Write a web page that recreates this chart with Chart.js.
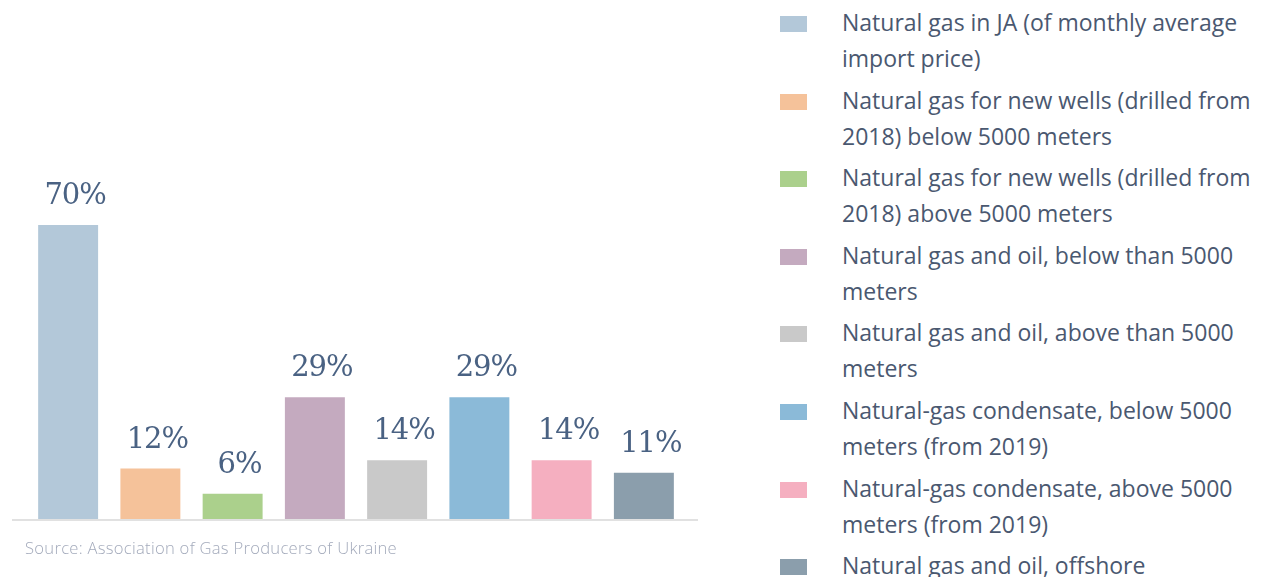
<!DOCTYPE html>
<html>
<head>
<meta charset="utf-8">
<script src="https://cdn.jsdelivr.net/npm/chart.js@4/dist/chart.umd.min.js"></script>
<style>
  html, body { margin: 0; padding: 0; background: #fff; }
  body { width: 1261px; height: 577px; position: relative; overflow: hidden; }
  #chartBox { position: absolute; left: 0; top: 0; width: 720px; height: 577px; }
  #source { position: absolute; left: 25px; top: 536px; font-family: "Open Sans", sans-serif; font-size: 16.6px; letter-spacing: 0.28px; color: #a3aabb; font-weight: 300; }
  #legend { position: absolute; left: 780px; top: 4px; font-family: "Open Sans", sans-serif; font-size: 23px; color: #4a5870; }
  .item { position: relative; height: 77.6px; }
  .sw { position: absolute; left: 0; top: 12px; width: 27px; height: 16px; }
  .txt { position: absolute; left: 62px; top: 0; line-height: 36px; white-space: nowrap; }
</style>
</head>
<body>
<div id="chartBox"><canvas id="chart"></canvas></div>
<div id="source">Source: Association of Gas Producers of Ukraine</div>
<div id="legend"></div>
<script>
// categories (legend text, line breaks as in the original)
const categories = [
    'Natural gas in JA (of monthly average|import price)',
    'Natural gas for new wells (drilled from|2018) below 5000 meters',
    'Natural gas for new wells (drilled from|2018) above 5000 meters',
    'Natural gas and oil, below than 5000|meters',
    'Natural gas and oil, above than 5000|meters',
    'Natural-gas condensate, below 5000|meters (from 2019)',
    'Natural-gas condensate, above 5000|meters (from 2019)',
    'Natural gas and oil, offshore'
]
const values = [70, 12, 6, 29, 14, 29, 14, 11]
const colors = ['#b3c8d9', '#f5c29a', '#abd08c', '#c4aabf', '#c9c9c9', '#8bbad8', '#f5afc0', '#8b9eac']

// legend
const legendEl = document.getElementById('legend')
categories.forEach((c, i) => {
    const item = document.createElement('div')
    item.className = 'item'
    item.innerHTML = '<div class="sw" style="background:' + colors[i] + '"></div>' +
        '<div class="txt">' + c.split('|').join('<br>') + '</div>'
    legendEl.appendChild(item)
})

// value labels above bars
const valueLabels = {
    id: 'valueLabels',
    afterDatasetsDraw(chart) {
        const ctx = chart.ctx
        const meta = chart.getDatasetMeta(0)
        ctx.save()
        ctx.fillStyle = '#4a6283'
        ctx.font = '29px "DejaVu Serif", serif'
        ctx.letterSpacing = '-1px'
        ctx.textAlign = 'center'
        ctx.textBaseline = 'alphabetic'
        meta.data.forEach((bar, i) => {
            ctx.fillText(values[i] + '%', bar.x + 7, bar.y - 21)
        })
        ctx.restore()
    }
}

// baseline that runs a bit past the bars
const baseLine = {
    id: 'baseLine',
    beforeDatasetsDraw(chart) {
        const { ctx, chartArea } = chart
        ctx.save()
        ctx.strokeStyle = '#e1e1e1'
        ctx.lineWidth = 2
        ctx.beginPath()
        ctx.moveTo(chartArea.left - 15, chartArea.bottom + 1)
        ctx.lineTo(chartArea.right + 13, chartArea.bottom + 1)
        ctx.stroke()
        ctx.restore()
    }
}

new Chart(document.getElementById('chart'), {
    type: 'bar',
    data: {
        labels: categories.map(c => c.replace('|', ' ')),
        datasets: [{
            data: values,
            backgroundColor: colors,
            barPercentage: 0.729,
            categoryPercentage: 1
        }]
    },
    options: {
        responsive: true,
        maintainAspectRatio: false,
        animation: false,
        layout: { padding: { left: 27, right: 35, top: 99, bottom: 58 } },
        plugins: { legend: { display: false }, tooltip: { enabled: false } },
        scales: {
            x: { display: false },
            y: { display: false, min: 0, max: 100 }
        }
    },
    plugins: [valueLabels, baseLine]
})
</script>
</body>
</html>
